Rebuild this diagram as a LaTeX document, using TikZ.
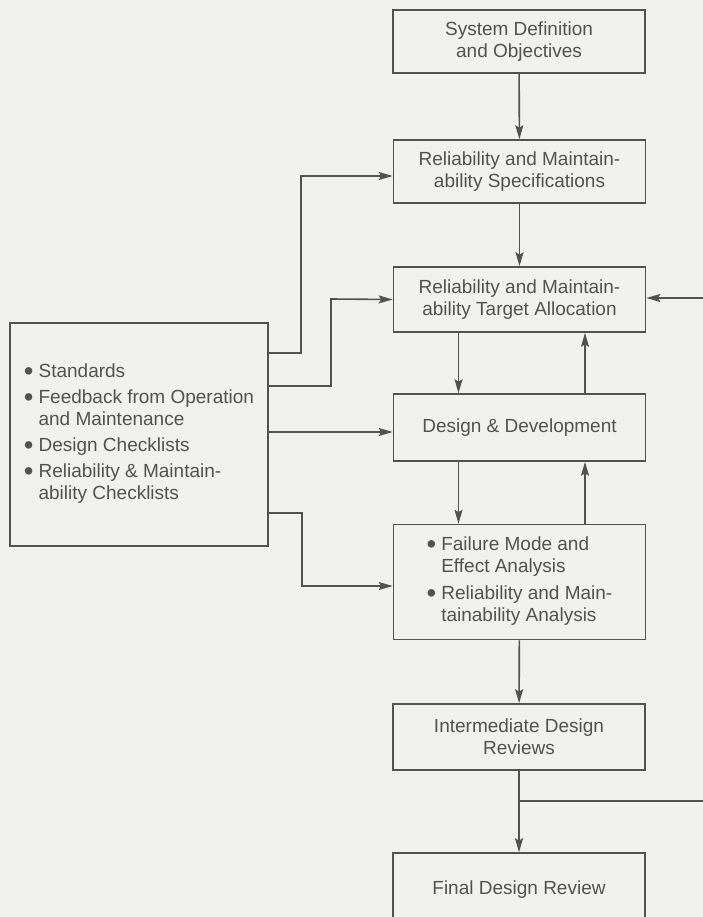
\documentclass[tikz,border=0pt]{standalone}
\usepackage{fontspec}
\setmainfont{Liberation Sans}
\usetikzlibrary{arrows.meta}
\definecolor{paper}{RGB}{241,241,239}
\definecolor{ink}{RGB}{82,82,82}
\newcommand{\blob}{\raisebox{-2.4pt}{\scalebox{1.45}{\textbullet}}}

\begin{document}
\begin{tikzpicture}[x=1pt, y=-1pt,
	box/.style={draw=ink, line width=1.6pt, minimum width=252pt, align=center, text=ink, font=\fontsize{19}{22}\selectfont},
	link/.style={draw=ink, line width=1.6pt},
	arr/.style={link, -{Stealth[length=14pt,width=8pt,inset=2.5pt]}}]
	\useasboundingbox (0,0) rectangle (703,917);
	\fill[paper] (-5,-5) rectangle (710,925);

	\node[box, minimum height=63pt] (sysdef) at (519,41.5) {System Definition\\and Objectives};
	\node[box, minimum height=63pt] (spec) at (519.5,171.5) {Reliability and Maintain-\\ability Specifications};
	\node[box, minimum height=65pt] (alloc) at (519.5,299.5) {Reliability and Maintain-\\ability Target Allocation};
	\node[box, minimum height=67pt] (design) at (519.5,427.5) {Design \& Development};
	\node[box, minimum height=115pt] (analysis) at (519.5,582) {\begin{tabular}{@{}l@{\hspace{5pt}}l@{}}
		\blob & Failure Mode and\\ & Effect Analysis\\[5pt]
		\blob & Reliability and Main-\\ & tainability Analysis\end{tabular}};
	\node[box, minimum height=66pt] (review) at (519,737) {Intermediate Design\\Reviews};
	\node[box, minimum height=74pt] (final) at (519,890) {Final Design Review};
	\node[box, minimum width=258pt, minimum height=223pt] (inputs) at (139,434.5) {\begin{tabular}{@{}l@{\hspace{5pt}}l@{}}
		\blob & Standards\\[4pt]
		\blob & Feedback from Operation\\ & and Maintenance\\[4pt]
		\blob & Design Checklists\\[4pt]
		\blob & Reliability \& Maintain-\\ & ability Checklists\end{tabular}};

	\draw[arr] (sysdef) -- (spec);
	\draw[arr] (spec) -- (alloc);
	\draw[arr] ([xshift=-61pt]alloc.south) -- ([xshift=-61pt]design.north);
	\draw[arr] ([xshift=65.5pt]design.north) -- ([xshift=65.5pt]alloc.south);
	\draw[arr] ([xshift=-61pt]design.south) -- ([xshift=-61pt]analysis.north);
	\draw[arr] ([xshift=65.5pt]analysis.north) -- ([xshift=65.5pt]design.south);
	\draw[arr] (analysis) -- (review);
	\draw[arr] (review) -- (final);

	\coordinate (tap) at (519,801);
	\coordinate (rimlow) at (710,801);
	\coordinate (rimhigh) at (710,298);
	\draw[link] (tap) -- (rimlow);
	\draw[arr] (rimhigh) -- (rimhigh -| alloc.east);

	\draw[arr] (inputs.east |- 0,353) -| (301,176) -- ([yshift=-4.5pt]spec.west);
	\draw[arr] (inputs.east |- 0,386) -| (331,299) -- (alloc.west);
	\draw[arr] (inputs.east |- 0,432) -- (design.west |- 0,432);
	\draw[arr] (inputs.east |- 0,513) -| (302,586) -- ([yshift=-4pt]analysis.west);
\end{tikzpicture}
\end{document}
